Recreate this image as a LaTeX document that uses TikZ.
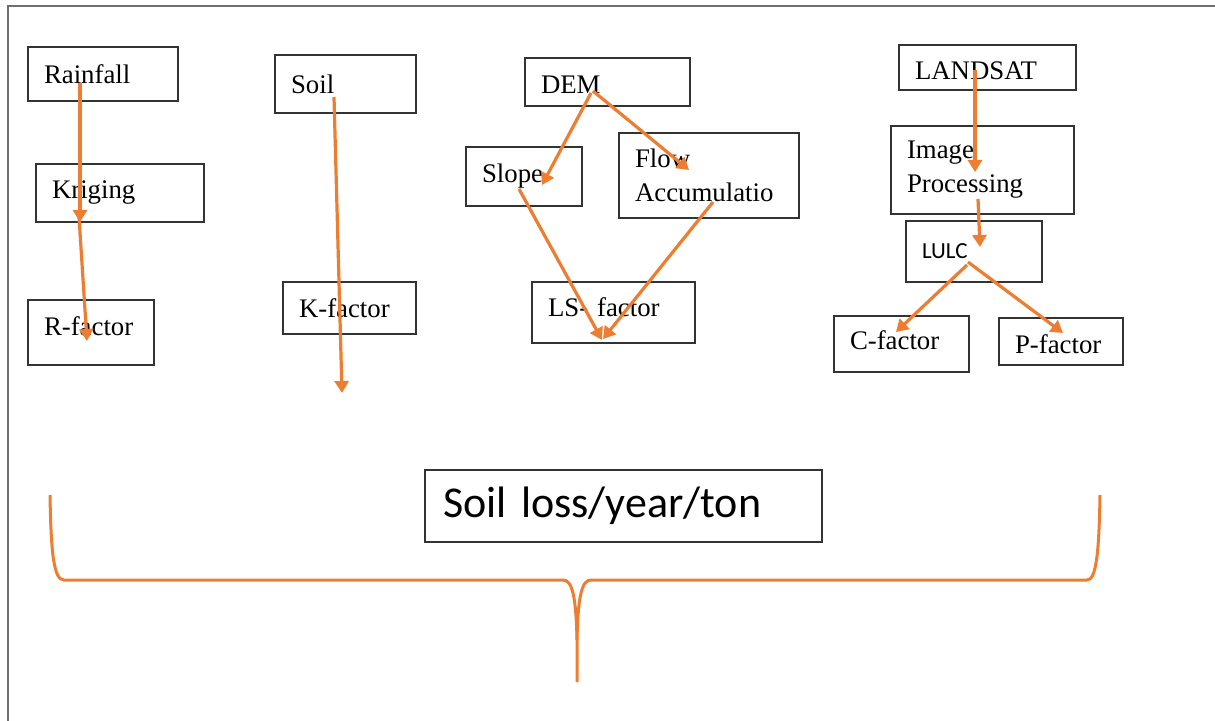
\documentclass[tikz,border=0pt]{standalone}
\usepackage{fontspec}
\setmainfont{Liberation Serif}
\newfontfamily\calibrifont{Carlito}
\usepackage{xcolor}
\usetikzlibrary{arrows.meta}
\definecolor{edgeorange}{HTML}{ED7D31}
\definecolor{framegray}{HTML}{6E6E6E}

\begin{document}
\begin{tikzpicture}[x=0.5pt, y=-0.5pt]
        % ================= styles =================
        \tikzset{
            % plain text box
            fbox/.style={draw=black!80, line width=0.7pt, inner xsep=8pt, inner ysep=0pt, align=left,
                font=\fontsize{13.4}{17}\selectfont},
            % orange arrows
            orange_arrow/.style={line width=1.6pt, edgeorange, -{Triangle[length=6pt, width=7pt]}},
            % outer page frame
            frame_line/.style={line width=1pt, framegray}
        }
        \useasboundingbox (0,0) rectangle (1215,721);

        % ================= frame =================
        \draw[frame_line] (8,721) -- (8,6) -- (1215,6);

        % ================= boxes =================
        % rainfall column
        \node[fbox, minimum width=75pt, minimum height=27pt, text width=59pt] (rainfall) at (103,74) {Rainfall};
        \node[fbox, minimum width=84pt, minimum height=29pt, text width=68pt] (kriging) at (120,193) {Kriging};
        \node[fbox, minimum width=63pt, minimum height=32.5pt, text width=47pt, text depth=6pt] (rfactor) at (91,332.5) {R-factor};

        % soil column
        \node[fbox, minimum width=70.5pt, minimum height=29pt, text width=54.5pt] (soil) at (345.5,84) {Soil};
        \node[fbox, minimum width=66.5pt, minimum height=26pt, text width=50.5pt] (kfactor) at (349.5,308) {K-factor};

        % DEM column
        \node[fbox, minimum width=82.5pt, minimum height=24pt, text width=66.5pt, text height=12pt] (dem) at (607.5,82) {DEM};
        \node[fbox, minimum width=58pt, minimum height=29.5pt, text width=42pt] (slope) at (524,176.5) {Slope};
        \node[fbox, minimum width=90pt, minimum height=42.5pt, text width=74pt] (flowacc) at (709,175.5) {Flow\\Accumulatio};
        \node[fbox, minimum width=81.5pt, minimum height=30.5pt, text width=65.5pt, text depth=5pt] (lsfactor) at (613.5,312.5) {LS- factor};

        % LANDSAT column
        \node[fbox, minimum width=88.5pt, minimum height=22.5pt, text width=72.5pt, text height=12pt] (landsat) at (987.5,67.5) {LANDSAT};
        \node[fbox, minimum width=91.5pt, minimum height=44pt, text width=75.5pt] (imgproc) at (982.5,170) {Image\\Processing};
        \node[fbox, minimum width=68pt, minimum height=30.5pt, text width=52pt, font=\calibrifont\fontsize{11.5}{14}\selectfont] (lulc) at (974,251.5) {LULC};
        \node[fbox, minimum width=67.5pt, minimum height=28pt, text width=51.5pt, text depth=4pt] (cfactor) at (901.5,344) {C-factor};
        \node[fbox, minimum width=62pt, minimum height=23.5pt, text width=46pt, text height=12.2pt] (pfactor) at (1061,341.5) {P-factor};

        % result
        \node[fbox, minimum width=198.5pt, minimum height=36pt, text width=180.5pt, inner xsep=9pt,
            font=\calibrifont\fontsize{22}{26}\selectfont] (soilloss) at (623.5,506) {Soil loss/year/ton};

        % ================= arrow end points =================
        \coordinate (rain_s) at (80,83);   \coordinate (krig_e) at (80,222);
        \coordinate (krig_s) at (79,217);  \coordinate (rfac_e) at (87,341);
        \coordinate (soil_s) at (334,97);  \coordinate (soil_e) at (342,393);
        \coordinate (dem_l) at (591,93);   \coordinate (slope_e) at (542,185);
        \coordinate (dem_r) at (593,91);   \coordinate (flow_e) at (689,170);
        \coordinate (slope_s) at (519,189); \coordinate (ls_l) at (602,340);
        \coordinate (flow_s) at (713,202); \coordinate (ls_r) at (603,339);
        \coordinate (land_s) at (975,70);  \coordinate (img_e) at (975,172);
        \coordinate (img_s) at (978,199);  \coordinate (lulc_e) at (980,247);
        \coordinate (lulc_l) at (967,265); \coordinate (cfac_e) at (896,332);
        \coordinate (lulc_r) at (968,262); \coordinate (pfac_e) at (1063,333);

        % ================= arrows =================
        \draw[orange_arrow] (rain_s) -- (krig_e);
        \draw[orange_arrow] (krig_s) -- (rfac_e);
        \draw[orange_arrow] (soil_s) -- (soil_e);
        \draw[orange_arrow] (dem_l) -- (slope_e);
        \draw[orange_arrow] (dem_r) -- (flow_e);
        \draw[orange_arrow] (slope_s) -- (ls_l);
        \draw[orange_arrow] (flow_s) -- (ls_r);
        \draw[orange_arrow] (land_s) -- (img_e);
        \draw[orange_arrow] (img_s) -- (lulc_e);
        \draw[orange_arrow] (lulc_l) -- (cfac_e);
        \draw[orange_arrow] (lulc_r) -- (pfac_e);

        % ================= brace =================
        \draw[line width=1.5pt, edgeorange, line join=round]
            (50,495) .. controls (51,555) and (54,580) .. (64,580) -- (563,580)
            .. controls (572,580) and (576,595) .. (577,640) -- (577,682);
        \draw[line width=1.5pt, edgeorange, line join=round]
            (577,640) .. controls (578,595) and (582,580) .. (591,580) -- (1087,580)
            .. controls (1096,580) and (1099,555) .. (1100,495);

    \end{tikzpicture}
\end{document}
